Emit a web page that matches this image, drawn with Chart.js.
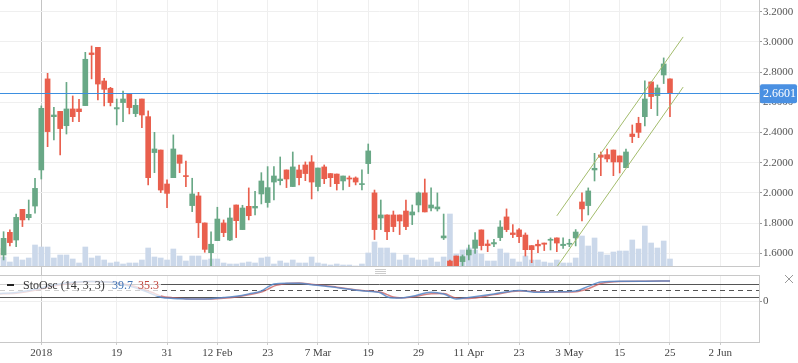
<!DOCTYPE html>
<html>
<head>
<meta charset="utf-8">
<script src="https://cdn.jsdelivr.net/npm/chart.js@4.4.1/dist/chart.umd.min.js"></script>
<style>
  html, body { margin: 0; padding: 0; background: #fff; }
  #wrap { position: relative; width: 798px; height: 363px; overflow: hidden; }
  #priceChart { position: absolute; left: 0; top: 0; }
  #oscChart { position: absolute; left: 0; top: 267px; }
</style>
</head>
<body>
<div id="wrap">
  <canvas id="priceChart" width="798" height="267"></canvas>
  <canvas id="oscChart" width="798" height="96"></canvas>
</div>
<script>
// Daily candles, one per trading day (index 7 = 1 Jan 2018)
const opens = [
    1.633, 1.589, 1.739, 1.688, 1.891, 1.836, 1.913, 2.152, 2.755, 2.505,
    2.540, 2.445, 2.556, 2.556, 2.578, 2.927, 2.964, 2.741, 2.693, 2.556,
    2.598, 2.655, 2.525, 2.622, 2.505, 2.267, 2.284, 2.059, 2.101, 2.251,
    2.114, 1.916, 1.980, 1.801, 1.604, 1.684, 1.801, 1.688, 1.920, 1.757,
    1.911, 1.900, 1.993, 1.936, 2.072, 2.081, 2.152, 2.042, 2.152, 2.185,
    2.205, 2.042, 2.172, 2.128, 2.125, 2.079, 2.099, 2.099, 2.055, 2.194,
    2.000, 1.834, 1.854, 1.854, 1.854, 1.880, 1.854, 1.920, 2.000, 1.900,
    1.894, 1.702, 1.549, 1.582, 1.545, 1.589, 1.633, 1.755, 1.662, 1.662,
    1.704, 1.841, 1.735, 1.755, 1.721, 1.651, 1.660, 1.668, 1.686, 1.702,
    1.651, 1.660, 1.702, 1.940, 1.916, 2.152, 2.251, 2.253, 2.284, 2.245,
    2.167, 2.390, 2.461, 2.505, 2.735, 2.644, 2.781, 2.755
];
const highs = [
    1.649, 1.743, 1.755, 1.860, 1.891, 1.953, 2.097, 2.576, 2.792, 2.567,
    2.540, 2.732, 2.642, 2.620, 2.931, 2.973, 2.964, 2.759, 2.699, 2.622,
    2.675, 2.655, 2.620, 2.622, 2.543, 2.401, 2.284, 2.086, 2.384, 2.251,
    2.211, 2.097, 2.004, 1.801, 1.743, 1.905, 1.821, 1.900, 1.920, 1.918,
    2.033, 2.011, 2.134, 2.174, 2.174, 2.238, 2.152, 2.271, 2.185, 2.205,
    2.247, 2.165, 2.185, 2.128, 2.125, 2.112, 2.112, 2.106, 2.152, 2.324,
    2.019, 1.953, 1.854, 1.880, 1.854, 1.953, 1.920, 2.006, 2.092, 2.033,
    2.000, 1.860, 1.555, 1.582, 1.589, 1.655, 1.737, 1.755, 1.688, 1.693,
    1.816, 1.894, 1.790, 1.763, 1.735, 1.651, 1.688, 1.668, 1.702, 1.702,
    1.702, 1.693, 1.757, 2.000, 2.033, 2.262, 2.271, 2.291, 2.284, 2.245,
    2.291, 2.450, 2.501, 2.743, 2.735, 2.715, 2.894, 2.755
];
const lows = [
    1.534, 1.556, 1.649, 1.644, 1.777, 1.821, 1.865, 2.092, 2.306, 2.351,
    2.251, 2.390, 2.472, 2.472, 2.578, 2.755, 2.615, 2.576, 2.576, 2.450,
    2.472, 2.523, 2.505, 2.432, 2.053, 2.134, 2.002, 1.902, 2.101, 2.134,
    2.042, 1.876, 1.704, 1.607, 1.512, 1.684, 1.710, 1.684, 1.704, 1.757,
    1.821, 1.854, 1.927, 1.905, 1.953, 2.053, 2.035, 2.042, 2.053, 2.081,
    1.960, 2.013, 2.061, 2.042, 2.019, 2.019, 2.042, 2.053, 2.019, 2.128,
    1.691, 1.757, 1.691, 1.743, 1.724, 1.757, 1.790, 1.874, 1.874, 1.880,
    1.880, 1.691, 1.505, 1.508, 1.505, 1.556, 1.600, 1.622, 1.611, 1.644,
    1.684, 1.743, 1.704, 1.671, 1.582, 1.538, 1.604, 1.618, 1.622, 1.611,
    1.633, 1.644, 1.649, 1.814, 1.854, 2.079, 2.114, 2.205, 2.114, 2.132,
    2.167, 2.333, 2.366, 2.443, 2.558, 2.512, 2.724, 2.505
];
const closes = [
    1.567, 1.699, 1.671, 1.838, 1.821, 1.858, 2.030, 2.560, 2.406, 2.516,
    2.426, 2.556, 2.505, 2.538, 2.885, 2.916, 2.721, 2.686, 2.598, 2.565,
    2.622, 2.565, 2.580, 2.516, 2.101, 2.291, 2.019, 1.997, 2.291, 2.196,
    2.108, 1.993, 1.803, 1.626, 1.660, 1.827, 1.737, 1.834, 1.816, 1.900,
    1.849, 1.911, 2.079, 2.035, 2.112, 2.092, 2.092, 2.172, 2.101, 2.128,
    2.072, 2.165, 2.094, 2.101, 2.061, 2.112, 2.092, 2.072, 2.061, 2.278,
    1.757, 1.854, 1.743, 1.777, 1.814, 1.777, 1.874, 2.000, 1.874, 1.920,
    1.907, 1.715, 1.512, 1.512, 1.578, 1.622, 1.688, 1.651, 1.651, 1.671,
    1.774, 1.757, 1.724, 1.710, 1.624, 1.624, 1.649, 1.660, 1.693, 1.668,
    1.660, 1.666, 1.741, 1.894, 2.013, 2.163, 2.236, 2.225, 2.205, 2.205,
    2.271, 2.373, 2.401, 2.622, 2.638, 2.695, 2.854, 2.6601
];
const volumes = [
    9, 10, 5, 10, 7, 9, 22, 20, 20, 9,
    12, 12, 8, 4, 20, 9, 11, 7, 4, 5,
    3, 4, 4, 7, 19, 10, 9, 7, 18, 11,
    6, 11, 11, 7, 8, 8, 4, 3, 3, 4,
    5, 4, 9, 10, 3, 6, 4, 7, 4, 4,
    10, 4, 3, 2, 3, 2, 2, 1, 3, 14,
    25, 19, 19, 14, 7, 12, 9, 7, 7, 9,
    5, 10, 53, 13, 17, 19, 17, 13, 6, 6,
    18, 14, 8, 5, 11, 7, 7, 5, 4, 7,
    4, 4, 9, 31, 21, 29, 15, 12, 15, 16,
    16, 27, 18, 41, 24, 19, 26, 8
];

// x axis labels (candle index -> text)
const tickIdx = [7, 19, 27, 35, 43, 51, 59, 67, 75, 83, 91, 99, 107, 115];
const tickLabels = ['2018', '19', '31', '12 Feb', '23', '7 Mar', '19', '29', '11 Apr', '23', '3 May', '15', '25', '2 Jun'];
const priceTicks = [1.6, 1.8, 2.0, 2.2, 2.4, 2.6, 2.8, 3.0, 3.2];
const lastPrice = 2.6601;

// trend channel drawn on the chart
const chanIdx = [89, 109.1];
const chanUpper = [1.848, 3.033];
const chanLower = [1.509, 2.701];

// stochastic oscillator (14, 3, 3)
const stoIdx = [0, 3, 6, 9, 12, 15, 18, 21, 23, 25, 26, 28, 30, 32, 34, 36, 38, 40, 42, 43,
    44, 46, 48, 50, 52, 54, 56, 58, 60, 61, 62, 63, 64, 66, 69, 71, 73, 75, 79, 83,
    86, 89, 92, 94, 96, 99, 103, 107];
const stoK = [35, 40, 55, 75, 88, 92, 88, 70, 52, 28, 18, 12, 10, 9, 11, 16, 22, 33, 47, 65,
    80, 84, 84, 77, 71, 63, 55, 48, 43, 38, 20, 14, 14, 22, 41, 33, 9, 17, 33, 49,
    41, 43, 47, 69, 89, 93, 93, 94];
const stoD = [33, 37, 50, 70, 85, 92, 90, 75, 58, 36, 24, 15, 11, 10, 10, 13, 19, 29, 42, 55,
    70, 82, 85, 79, 73, 65, 57, 50, 45, 41, 30, 19, 15, 19, 34, 35, 14, 12, 30, 47,
    44, 42, 44, 58, 82, 92, 93, 94];
const stoLevels = [80, 50, 20];

const UP = '#69a886';
const DOWN = '#e95f4d';
const VOL = '#cbd8ea';
const CHAN = '#a3bc6c';
const GRID = '#efefef';
const YEAR_LINE = '#c4c4c4';
const FRAME = '#c8c8c8';
const FONT = 'Liberation Serif';

const X_MIN = 0.43;
const X_MAX = 121.16;

const isUp = opens.map((o, i) => closes[i] >= o);
const candleColors = isUp.map(u => u ? UP : DOWN);
const wickData = opens.map((_, i) => ({ x: i, y: [lows[i], highs[i]] }));
const bodyData = opens.map((o, i) => ({ x: i, y: [o, closes[i]] }));
const volData = volumes.map((v, i) => ({ x: i, y: v }));

const xGridColor = ctx => (ctx.tick && ctx.tick.value === 7) ? YEAR_LINE : GRID;
const setXTicks = s => { s.ticks = tickIdx.map(v => ({ value: v })); };
// no extra room for half tick labels at the ends of the value axes
const noPad = s => { s.paddingTop = 0; s.paddingBottom = 0; s.width = 39; };

// Price line + label, bottom edge of the price panel
const pricePlugin = {
    id: 'pricePlugin',
    afterDatasetsDraw(chart) {
        const { ctx, chartArea } = chart;
        const y = Math.round(chart.scales.y.getPixelForValue(lastPrice)) + 0.5;
        ctx.save();
        ctx.strokeStyle = '#3d8fe0';
        ctx.lineWidth = 1;
        ctx.beginPath();
        ctx.moveTo(chartArea.left, y);
        ctx.lineTo(chartArea.right, y);
        ctx.stroke();

        ctx.strokeStyle = FRAME;
        ctx.beginPath();
        ctx.moveTo(0, chartArea.bottom - 0.5);
        ctx.lineTo(chartArea.right, chartArea.bottom - 0.5);
        ctx.stroke();
        ctx.restore();
    },
    afterDraw(chart) {
        const { ctx, chartArea } = chart;
        const y = chart.scales.y.getPixelForValue(lastPrice);
        ctx.save();
        ctx.fillStyle = '#4a90e2';
        ctx.beginPath();
        ctx.roundRect(chartArea.right + 1, y - 9, 37, 19, 2);
        ctx.fill();
        ctx.fillStyle = '#fff';
        ctx.font = '12px "' + FONT + '"';
        ctx.textBaseline = 'middle';
        ctx.fillText(lastPrice.toFixed(4), chartArea.right + 4, y + 1);
        ctx.restore();
    }
};

new Chart(document.getElementById('priceChart'), {
    type: 'bar',
    data: {
        datasets: [
            {
                type: 'line',
                data: chanIdx.map((x, i) => ({ x, y: chanUpper[i] })),
                borderColor: CHAN, borderWidth: 1, pointRadius: 0, order: 0
            },
            {
                type: 'line',
                data: chanIdx.map((x, i) => ({ x, y: chanLower[i] })),
                borderColor: CHAN, borderWidth: 1, pointRadius: 0, order: 0
            },
            {
                data: bodyData, backgroundColor: candleColors,
                barThickness: 5, grouped: false, minBarLength: 1, order: 1
            },
            {
                data: wickData, backgroundColor: candleColors,
                barThickness: 1, grouped: false, order: 2
            },
            {
                data: volData, yAxisID: 'yv', backgroundColor: VOL,
                barThickness: 5, grouped: false, order: 3
            }
        ]
    },
    options: {
        responsive: false,
        animation: false,
        layout: { padding: 0 },
        plugins: { legend: { display: false }, tooltip: { enabled: false } },
        scales: {
            x: {
                type: 'linear', min: X_MIN, max: X_MAX, offset: false,
                afterBuildTicks: setXTicks,
                ticks: { display: false },
                grid: { color: xGridColor, drawTicks: false, offset: false },
                border: { display: false },
                afterFit: s => { s.height = 0; s.paddingLeft = 0; s.paddingRight = 0; }
            },
            y: {
                position: 'right', min: 1.5093, max: 3.2775,
                afterBuildTicks: s => { s.ticks = priceTicks.map(v => ({ value: v })); },
                ticks: {
                    callback: v => v.toFixed(4),
                    font: { family: FONT, size: 11 }, color: '#555', padding: 1
                },
                grid: { color: GRID, tickLength: 3, tickColor: '#999' },
                border: { color: FRAME },
                afterFit: noPad
            },
            yv: { display: false, min: 0, max: 267 }
        }
    },
    plugins: [pricePlugin]
});

// Oscillator panel: levels, frame, legend, handle, close icon
const oscPlugin = {
    id: 'oscPlugin',
    beforeDatasetsDraw(chart) {
        const { ctx, chartArea, scales } = chart;
        ctx.save();
        ctx.strokeStyle = '#555';
        ctx.lineWidth = 1;
        stoLevels.forEach(lv => {
            const y = Math.round(scales.y.getPixelForValue(lv)) + 0.5;
            ctx.setLineDash(lv === 50 ? [5, 4] : []);
            ctx.beginPath();
            ctx.moveTo(chartArea.left, y);
            ctx.lineTo(chartArea.right, y);
            ctx.stroke();
        });
        ctx.restore();
    },
    afterDatasetsDraw(chart) {
        const { ctx, chartArea, scales } = chart;
        ctx.save();
        // frame top edge
        ctx.strokeStyle = FRAME;
        ctx.lineWidth = 1;
        ctx.beginPath();
        ctx.moveTo(0, chartArea.top + 0.5);
        ctx.lineTo(chartArea.right, chartArea.top + 0.5);
        ctx.stroke();
        // year line through the gap between panels
        const yx = Math.round(scales.x.getPixelForValue(7)) + 0.5;
        ctx.strokeStyle = YEAR_LINE;
        ctx.beginPath();
        ctx.moveTo(yx, 0);
        ctx.lineTo(yx, chartArea.top);
        ctx.stroke();
        // resize handle
        ctx.strokeStyle = '#ccc';
        [2.5, 4.5, 6.5].forEach(y => {
            ctx.beginPath();
            ctx.moveTo(375, y);
            ctx.lineTo(386, y);
            ctx.stroke();
        });
        // close icon
        ctx.strokeStyle = '#999';
        ctx.beginPath();
        ctx.moveTo(785, 8); ctx.lineTo(793, 16);
        ctx.moveTo(793, 8); ctx.lineTo(785, 16);
        ctx.stroke();

        // legend
        ctx.fillStyle = 'rgba(255,255,255,0.72)';
        ctx.fillRect(0, chartArea.top + 1, 161, 20);
        ctx.fillStyle = '#222';
        ctx.fillRect(7, 17, 7, 2);
        ctx.font = '12px "' + FONT + '"';
        ctx.textBaseline = 'middle';
        ctx.fillStyle = '#333';
        ctx.fillText('StoOsc (14, 3, 3)', 23, 19);
        ctx.fillStyle = '#3f72b5';
        ctx.fillText('39.7', 112, 19);
        ctx.fillStyle = '#c0433a';
        ctx.fillText('35.3', 138, 19);
        ctx.restore();
    }
};

new Chart(document.getElementById('oscChart'), {
    type: 'line',
    data: {
        datasets: [
            {
                data: stoIdx.map((x, i) => ({ x, y: stoK[i] })),
                borderColor: 'rgba(85,135,200,0.85)', borderWidth: 1.5,
                pointRadius: 0, cubicInterpolationMode: 'monotone'
            },
            {
                data: stoIdx.map((x, i) => ({ x, y: stoD[i] })),
                borderColor: 'rgba(200,90,90,0.75)', borderWidth: 1.5,
                pointRadius: 0, cubicInterpolationMode: 'monotone'
            }
        ]
    },
    options: {
        responsive: false,
        animation: false,
        layout: { padding: { top: 8 } },
        plugins: { legend: { display: false }, tooltip: { enabled: false } },
        scales: {
            x: {
                type: 'linear', min: X_MIN, max: X_MAX, offset: false,
                afterBuildTicks: setXTicks,
                ticks: {
                    callback: v => tickLabels[tickIdx.indexOf(v)],
                    font: { family: FONT, size: 11 }, color: '#444',
                    padding: 2, maxRotation: 0, autoSkip: false
                },
                grid: { color: xGridColor, tickLength: 3, tickColor: '#ccc' },
                border: { color: FRAME },
                afterFit: s => { s.height = 21; s.paddingLeft = 0; s.paddingRight = 0; }
            },
            y: {
                position: 'right', min: -193, max: 122.4,
                afterBuildTicks: s => { s.ticks = [{ value: 0 }]; },
                ticks: { font: { family: FONT, size: 11 }, color: '#555', padding: 1 },
                grid: { color: GRID, tickLength: 3, tickColor: '#999' },
                border: { color: FRAME },
                afterFit: noPad
            }
        }
    },
    plugins: [oscPlugin]
});
</script>
</body>
</html>
